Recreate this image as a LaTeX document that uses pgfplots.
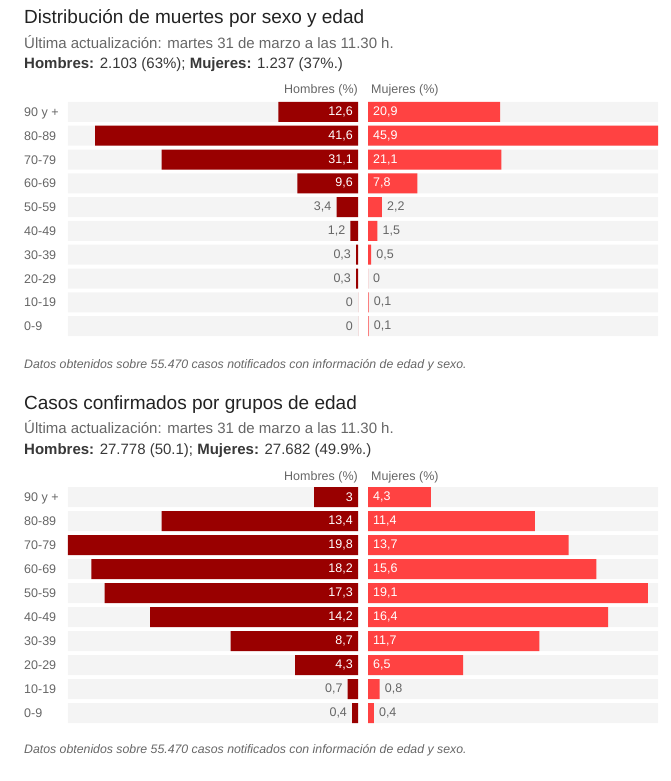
\documentclass[border=0pt]{standalone}
\usepackage{pgfplots}
\pgfplotsset{compat=1.18}
\usepackage{pgfplotstable}
\usepackage{fontspec}
\setmainfont{Liberation Sans}
\definecolor{hred}{HTML}{990000}
\definecolor{mred}{HTML}{FF4242}
\definecolor{band}{HTML}{F4F4F4}
\definecolor{txt}{HTML}{666666}
\definecolor{ttl}{HTML}{222222}

\pgfplotsset{
  panel/.style={
    scale only axis, width=290pt, axis lines=none, ticks=none,
    xmin=0, ymin=-0.5, ymax=9.5, y dir=reverse, clip=false,
  },
  barp/.style={xbar, bar shift=0pt, bar width=20pt, draw=none},
  lab/.style={only marks, mark=none,
    nodes near coords, point meta=explicit symbolic,
    every node near coord/.append style={font=\fontsize{12.5}{13}\selectfont, inner sep=0pt, #1}},
}

% Deaths (value, label inside bar, label outside bar)
\pgfplotstableread{
row v lin lout
0 12.6 12,6 {}
1 41.6 41,6 {}
2 31.1 31,1 {}
3 9.6 9,6 {}
4 3.4 {} 3,4
5 1.2 {} 1,2
6 0.3 {} 0,3
7 0.3 {} 0,3
8 0 {} 0
9 0 {} 0
}\deathH
\pgfplotstableread{
row v lin lout
0 20.9 20,9 {}
1 45.9 45,9 {}
2 21.1 21,1 {}
3 7.8 7,8 {}
4 2.2 {} 2,2
5 1.5 {} 1,5
6 0.5 {} 0,5
7 0 {} 0
8 0.1 {} 0,1
9 0.1 {} 0,1
}\deathM
% Cases
\pgfplotstableread{
row v lin lout
0 3 3 {}
1 13.4 13,4 {}
2 19.8 19,8 {}
3 18.2 18,2 {}
4 17.3 17,3 {}
5 14.2 14,2 {}
6 8.7 8,7 {}
7 4.3 4,3 {}
8 0.7 {} 0,7
9 0.4 {} 0,4
}\caseH
\pgfplotstableread{
row v lin lout
0 4.3 4,3 {}
1 11.4 11,4 {}
2 13.7 13,7 {}
3 15.6 15,6 {}
4 19.1 19,1 {}
5 16.4 16,4 {}
6 11.7 11,7 {}
7 6.5 6,5 {}
8 0.8 {} 0,8
9 0.4 {} 0,4
}\caseM

\newcommand{\leftpanel}[2]{%
  \addplot[barp, fill=band] table[x expr=#2, y=row] {#1};
  \addplot[barp, fill=hred] table[x=v, y=row] {#1};
  \addplot[lab={anchor=east, xshift=-5pt, text=white}] table[x expr=0, y=row, meta=lin] {#1};
  \addplot[lab={anchor=east, xshift=-5pt, text=txt}] table[x=v, y=row, meta=lout] {#1};
}
\newcommand{\rightpanel}[2]{%
  \addplot[barp, fill=band] table[x expr=#2, y=row] {#1};
  \addplot[barp, fill=mred] table[x=v, y=row] {#1};
  \addplot[lab={anchor=west, xshift=5pt, text=white}] table[x expr=0, y=row, meta=lin] {#1};
  \addplot[lab={anchor=west, xshift=5pt, text=txt}] table[x=v, y=row, meta=lout] {#1};
}

\begin{document}
\begin{tikzpicture}
\path[use as bounding box] (0,0) rectangle (670pt,-781pt);

% ---------- Chart 1 ----------
\node[anchor=base west, inner sep=0pt, text=ttl, font=\fontsize{19}{21}\selectfont] at (24pt,-24pt) {Distribución de muertes por sexo y edad};
\node[anchor=base west, inner sep=0pt, text=txt, font=\fontsize{15}{17}\selectfont] at (24pt,-49pt) {Última actualización: martes 31 de marzo a las 11.30 h.};
\node[anchor=base west, inner sep=0pt, text=ttl!90, font=\fontsize{15}{17}\selectfont] at (24pt,-69pt) {\textbf{Hombres:} 2.103 (63\%); \textbf{Mujeres:} 1.237 (37\%.)};
\node[anchor=base east, inner sep=0pt, text=txt, font=\fontsize{12.5}{14}\selectfont] at (358pt,-94pt) {Hombres (\%)};
\node[anchor=base west, inner sep=0pt, text=txt, font=\fontsize{12.5}{14}\selectfont] at (371pt,-94pt) {Mujeres (\%)};

\begin{axis}[panel, height=238pt, x dir=reverse, xmax=45.9, anchor=north west, at={(68pt,-100pt)}]
\leftpanel{\deathH}{45.9}
\end{axis}
\begin{axis}[panel, height=238pt, xmax=45.9, anchor=north west, at={(368pt,-100pt)}]
\rightpanel{\deathM}{45.9}
\end{axis}

\foreach \lab [count=\i from 0] in {90 y +,80-89,70-79,60-69,50-59,40-49,30-39,20-29,10-19,0-9}{
  \node[anchor=base west, inner sep=0pt, text=txt, font=\fontsize{12.5}{14}\selectfont] at (24pt,{-(100+11.9+23.8*\i+4.5)*1pt}) {\lab};
}
\node[anchor=base west, inner sep=0pt, text=txt, font=\itshape\fontsize{12.3}{14}\selectfont] at (24pt,-368pt) {Datos obtenidos sobre 55.470 casos notificados con información de edad y sexo.};

% ---------- Chart 2 ----------
\node[anchor=base west, inner sep=0pt, text=ttl, font=\fontsize{19}{21}\selectfont] at (24pt,-409pt) {Casos confirmados por grupos de edad};
\node[anchor=base west, inner sep=0pt, text=txt, font=\fontsize{15}{17}\selectfont] at (24pt,-433pt) {Última actualización: martes 31 de marzo a las 11.30 h.};
\node[anchor=base west, inner sep=0pt, text=ttl!90, font=\fontsize{15}{17}\selectfont] at (24pt,-454pt) {\textbf{Hombres:} 27.778 (50.1); \textbf{Mujeres:} 27.682 (49.9\%.)};
\node[anchor=base east, inner sep=0pt, text=txt, font=\fontsize{12.5}{14}\selectfont] at (358pt,-480pt) {Hombres (\%)};
\node[anchor=base west, inner sep=0pt, text=txt, font=\fontsize{12.5}{14}\selectfont] at (371pt,-480pt) {Mujeres (\%)};

\begin{axis}[panel, height=240pt, x dir=reverse, xmax=19.8, anchor=north west, at={(68pt,-485pt)}]
\leftpanel{\caseH}{19.8}
\end{axis}
\begin{axis}[panel, height=240pt, xmax=19.8, anchor=north west, at={(368pt,-485pt)}]
\rightpanel{\caseM}{19.8}
\end{axis}

\foreach \lab [count=\i from 0] in {90 y +,80-89,70-79,60-69,50-59,40-49,30-39,20-29,10-19,0-9}{
  \node[anchor=base west, inner sep=0pt, text=txt, font=\fontsize{12.5}{14}\selectfont] at (24pt,{-(485+12+24*\i+4.5)*1pt}) {\lab};
}
\node[anchor=base west, inner sep=0pt, text=txt, font=\itshape\fontsize{12.3}{14}\selectfont] at (24pt,-753pt) {Datos obtenidos sobre 55.470 casos notificados con información de edad y sexo.};
\end{tikzpicture}
\end{document}
